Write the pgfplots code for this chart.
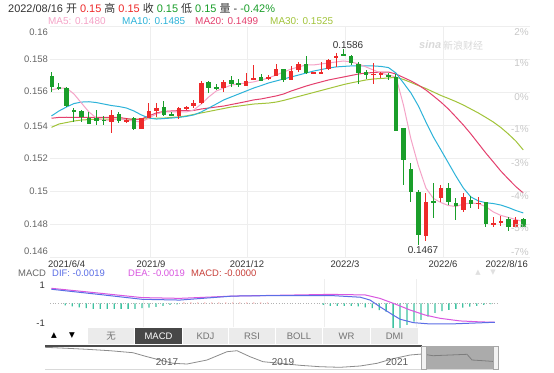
\documentclass[border=0pt]{standalone}
\usepackage{pgfplots}
\pgfplotsset{compat=1.18}
\usepackage{pgfplotstable}
\usepackage{fontspec}
\setmainfont{Liberation Sans}
\newfontfamily\cjk{Noto Sans CJK SC}
\newfontfamily\dejavu{DejaVu Sans}
\definecolor{cred}{HTML}{EE2A2A}
\definecolor{cgrn}{HTML}{1A9E2A}
\definecolor{ma5}{HTML}{F5A3C7}
\definecolor{ma10}{HTML}{2DB3D9}
\definecolor{ma20}{HTML}{E4406E}
\definecolor{ma30}{HTML}{A2C43A}
\definecolor{dif}{HTML}{5B6EE6}
\definecolor{dea}{HTML}{D957E0}
\definecolor{macdc}{HTML}{C8403A}
\definecolor{hist}{HTML}{3EC2A0}
\definecolor{gridc}{HTML}{EEEEEE}
\definecolor{txt}{HTML}{333333}
\definecolor{lbl}{HTML}{666666}
\definecolor{pct}{HTML}{C8C8C8}
\newcommand\fs[1]{\fontsize{#1}{#1}\selectfont}

\pgfplotstableread{
i o h l c
8 0.15420 0.15491 0.15352 0.15461
10 0.15418 0.15442 0.15412 0.15430
12 0.15376 0.15445 0.15374 0.15441
13 0.15444 0.15535 0.15440 0.15485
14 0.15487 0.15533 0.15450 0.15501
17 0.15455 0.15511 0.15435 0.15501
18 0.15503 0.15517 0.15490 0.15509
19 0.15515 0.15552 0.15501 0.15532
20 0.15532 0.15669 0.15530 0.15657
23 0.15622 0.15673 0.15602 0.15662
26 0.15636 0.15713 0.15634 0.15669
27 0.15673 0.15764 0.15671 0.15683
29 0.15677 0.15703 0.15673 0.15693
30 0.15697 0.15768 0.15695 0.15738
32 0.15673 0.15758 0.15671 0.15729
33 0.15733 0.15784 0.15723 0.15770
35 0.15714 0.15722 0.15712 0.15720
36 0.15713 0.15780 0.15707 0.15723
37 0.15738 0.15798 0.15733 0.15794
38 0.15808 0.15838 0.15753 0.15818
43 0.15705 0.15774 0.15649 0.15711
44 0.15707 0.15723 0.15683 0.15713
50 0.14727 0.14990 0.14699 0.14935
52 0.14956 0.15036 0.14935 0.15016
55 0.14885 0.14986 0.14875 0.14966
57 0.14921 0.14962 0.14889 0.14929
59 0.14794 0.14844 0.14780 0.14804
60 0.14804 0.14849 0.14788 0.14820
62 0.14784 0.14844 0.14780 0.14824
}\upcandles

\pgfplotstableread{
i o h l c
0 0.15697 0.15721 0.15600 0.15632
1 0.15632 0.15656 0.15612 0.15620
2 0.15622 0.15628 0.15509 0.15515
3 0.15491 0.15503 0.15420 0.15483
4 0.15487 0.15491 0.15420 0.15447
5 0.15444 0.15480 0.15406 0.15406
6 0.15441 0.15491 0.15400 0.15426
7 0.15433 0.15455 0.15400 0.15425
9 0.15467 0.15481 0.15414 0.15424
11 0.15441 0.15448 0.15372 0.15374
15 0.15507 0.15545 0.15455 0.15460
16 0.15467 0.15480 0.15452 0.15458
21 0.15659 0.15669 0.15596 0.15622
22 0.15632 0.15648 0.15612 0.15618
24 0.15673 0.15699 0.15632 0.15647
25 0.15657 0.15679 0.15630 0.15642
28 0.15693 0.15707 0.15667 0.15669
31 0.15738 0.15740 0.15662 0.15673
34 0.15770 0.15818 0.15709 0.15717
39 0.15829 0.15860 0.15823 0.15823
40 0.15818 0.15824 0.15764 0.15774
41 0.15770 0.15784 0.15649 0.15713
42 0.15723 0.15733 0.15677 0.15703
45 0.15703 0.15713 0.15673 0.15689
46 0.15689 0.15709 0.15366 0.15366
47 0.15380 0.15382 0.15036 0.15188
48 0.15132 0.15168 0.14935 0.14996
49 0.14996 0.15006 0.14670 0.14733
51 0.14942 0.15046 0.14834 0.14930
53 0.15016 0.15046 0.14915 0.14935
54 0.14929 0.14956 0.14824 0.14909
56 0.14946 0.14970 0.14895 0.14921
58 0.14935 0.14935 0.14784 0.14800
61 0.14828 0.14844 0.14760 0.14784
63 0.14828 0.14834 0.14784 0.14784
}\downcandles

\pgfplotsset{
  wick/.style={draw=none, mark=none, forget plot, error bars/.cd, y dir=both, y explicit, error mark=none, error bar style={draw=#1, line width=1bp, solid}},
  body/.style={draw=none, mark=none, forget plot, error bars/.cd, y dir=both, y explicit, error mark=none, error bar style={draw=#1, line width=4.6bp, solid}},
}

\begin{document}
\begin{tikzpicture}[x=1bp,y=1bp]
\fill[white] (0,0) rectangle (554,372);
\path[use as bounding box] (0,0) rectangle (554,372);

% ---------- header ----------
\node[anchor=west, inner sep=0pt, text=txt, font=\fs{11}] at (8,364)
 {2022/08/16 {\cjk 开} \textcolor{cred}{0.15} {\cjk 高} \textcolor{cred}{0.15} {\cjk 收} \textcolor{cgrn}{0.15} {\cjk 低} \textcolor{cgrn}{0.15} {\cjk 量} - \textcolor{cgrn}{-0.42\%}};
\node[anchor=west, inner sep=0pt, text=ma5, font=\fs{10}] at (48,351) {MA5: 0.1480};
\node[anchor=west, inner sep=0pt, text=ma10, font=\fs{10}] at (122,351) {MA10: 0.1485};
\node[anchor=west, inner sep=0pt, text=ma20, font=\fs{10}] at (195,351) {MA20: 0.1499};
\node[anchor=west, inner sep=0pt, text=ma30, font=\fs{10}] at (270,351) {MA30: 0.1525};

% ---------- main chart ----------
\begin{axis}[at={(50bp,115bp)}, anchor=south west, scale only axis,
  width=480bp, height=231bp, xmin=-0.2, xmax=63.9, ymin=0.146, ymax=0.160,
  axis line style={draw=none}, tick style={draw=none},
  xtick={13.2,26.1,39.2,52.3}, xticklabels={},
  ytick={0.146,0.148,0.150,0.152,0.154,0.156,0.158,0.160}, yticklabels={},
  grid=major, major grid style={draw=gridc, line width=0.7bp}]
\addplot[ma30, line width=1bp] coordinates {(0,0.15386)(1,0.15406)(2,0.15415)(3,0.15424)(4,0.1543)(5,0.15433)(6,0.15435)(7,0.15436)(8,0.15436)(9,0.15436)(10,0.15436)(11,0.15436)(12,0.15436)(13,0.15439)(14,0.15441)(15,0.15442)(16,0.15446)(17,0.15449)(18,0.15455)(19,0.15464)(20,0.15473)(21,0.15482)(22,0.15491)(23,0.155)(24,0.15509)(25,0.15515)(26,0.15521)(27,0.15527)(28,0.1553)(29,0.15533)(30,0.15539)(31,0.15549)(32,0.15561)(33,0.15573)(34,0.15585)(35,0.15597)(36,0.15609)(37,0.15621)(38,0.15633)(39,0.15645)(40,0.15655)(41,0.15664)(42,0.15673)(43,0.15679)(44,0.15682)(45,0.15685)(46,0.15689)(47,0.15676)(48,0.15658)(49,0.15639)(50,0.15621)(51,0.156)(52,0.15579)(53,0.15561)(54,0.15542)(55,0.15521)(56,0.15497)(57,0.15473)(58,0.15446)(59,0.15418)(60,0.15385)(61,0.15346)(62,0.15303)(63,0.15249)};
\addplot[ma20, line width=1bp] coordinates {(0,0.15441)(1,0.15446)(2,0.15447)(3,0.15446)(4,0.15446)(5,0.15446)(6,0.15446)(7,0.15446)(8,0.15446)(9,0.15446)(10,0.15439)(11,0.15433)(12,0.15436)(13,0.15455)(14,0.15473)(15,0.15482)(16,0.15485)(17,0.15487)(18,0.15487)(19,0.15488)(20,0.15497)(21,0.15503)(22,0.15509)(23,0.15515)(24,0.15524)(25,0.15533)(26,0.15542)(27,0.15552)(28,0.15558)(29,0.15567)(30,0.15576)(31,0.15588)(32,0.15606)(33,0.15621)(34,0.15636)(35,0.15649)(36,0.15661)(37,0.15673)(38,0.15682)(39,0.15691)(40,0.157)(41,0.15709)(42,0.15715)(43,0.15718)(44,0.15721)(45,0.15721)(46,0.15709)(47,0.15688)(48,0.15667)(49,0.15642)(50,0.15612)(51,0.15576)(52,0.15539)(53,0.15497)(54,0.15449)(55,0.154)(56,0.15346)(57,0.15288)(58,0.1523)(59,0.15176)(60,0.15121)(61,0.15073)(62,0.15027)(63,0.14988)};
\addplot[ma10, line width=1bp] coordinates {(0,0.15455)(1,0.15485)(2,0.15509)(3,0.1553)(4,0.15539)(5,0.15541)(6,0.15536)(7,0.15527)(8,0.15518)(9,0.15512)(10,0.15503)(11,0.15485)(12,0.15461)(13,0.15442)(14,0.15436)(15,0.15439)(16,0.15442)(17,0.15446)(18,0.15452)(19,0.15461)(20,0.15479)(21,0.15503)(22,0.15527)(23,0.15552)(24,0.1557)(25,0.15588)(26,0.15606)(27,0.15624)(28,0.15639)(29,0.15655)(30,0.15667)(31,0.15679)(32,0.15691)(33,0.15703)(34,0.15715)(35,0.15727)(36,0.15736)(37,0.15745)(38,0.15752)(39,0.15755)(40,0.15758)(41,0.15758)(42,0.15758)(43,0.15758)(44,0.15755)(45,0.15748)(46,0.15715)(47,0.15655)(48,0.15594)(49,0.15515)(50,0.15418)(51,0.15327)(52,0.15249)(53,0.1517)(54,0.15091)(55,0.15018)(56,0.14964)(57,0.1494)(58,0.14929)(59,0.14924)(60,0.14915)(61,0.149)(62,0.14882)(63,0.14867)};
\addplot[ma5, line width=1bp] coordinates {(0,0.15612)(1,0.15624)(2,0.15624)(3,0.15588)(4,0.15533)(5,0.15479)(6,0.15442)(7,0.1543)(8,0.1543)(9,0.15436)(10,0.1543)(11,0.15424)(12,0.15418)(13,0.15442)(14,0.15467)(15,0.15479)(16,0.15479)(17,0.15479)(18,0.15479)(19,0.15491)(20,0.15527)(21,0.1557)(22,0.15606)(23,0.15624)(24,0.15642)(25,0.15649)(26,0.15655)(27,0.15661)(28,0.15673)(29,0.15685)(30,0.15703)(31,0.15721)(32,0.15739)(33,0.15752)(34,0.15764)(35,0.15764)(36,0.1577)(37,0.15776)(38,0.15782)(39,0.15788)(40,0.15782)(41,0.1577)(42,0.15752)(43,0.15733)(44,0.15715)(45,0.15703)(46,0.15691)(47,0.15521)(48,0.15315)(49,0.15152)(50,0.15018)(51,0.14955)(52,0.1493)(53,0.14912)(54,0.14906)(55,0.14921)(56,0.14927)(57,0.14924)(58,0.14905)(59,0.14873)(60,0.14852)(61,0.1484)(62,0.14827)(63,0.14814)};
\addplot[wick=cred] table[x=i, y expr={(\thisrow{h}+\thisrow{l})/2}, y error expr={(\thisrow{h}-\thisrow{l})/2}] {\upcandles};
\addplot[body=cred] table[x=i, y expr={(\thisrow{o}+\thisrow{c})/2}, y error expr={abs(\thisrow{c}-\thisrow{o})/2}] {\upcandles};
\addplot[wick=cgrn] table[x=i, y expr={(\thisrow{h}+\thisrow{l})/2}, y error expr={(\thisrow{h}-\thisrow{l})/2}] {\downcandles};
\addplot[body=cgrn] table[x=i, y expr={(\thisrow{o}+\thisrow{c})/2}, y error expr={abs(\thisrow{c}-\thisrow{o})/2}] {\downcandles};
\end{axis}

% y labels left
\foreach \v/\y in {0.16/339.3, 0.158/312.7, 0.156/280.3, 0.154/246, 0.152/214, 0.15/180.3, 0.148/148, 0.146/120.3}
  \node[anchor=east, inner sep=0pt, text=lbl, font=\fs{9.5}] at (48,\y) {\v};
% right % labels
\foreach \v/\y in {2\%/340, 1\%/308.7, 0\%/275.3, -1\%/242.7, -3\%/209.3, -4\%/176, -5\%/144, -7\%/120.3}
  \node[anchor=east, inner sep=0pt, text=pct, font=\fs{10}] at (529,\y) {\v};
% date labels
\node[anchor=west, inner sep=0pt, text=txt, font=\fs{9.5}] at (48,108) {2021/6/4};
\node[inner sep=0pt, text=txt, font=\fs{9.5}] at (151,108) {2021/9};
\node[inner sep=0pt, text=txt, font=\fs{9.5}] at (247,108) {2021/12};
\node[inner sep=0pt, text=txt, font=\fs{9.5}] at (345,108) {2022/3};
\node[inner sep=0pt, text=txt, font=\fs{9.5}] at (443,108) {2022/6};
\node[anchor=east, inner sep=0pt, text=txt, font=\fs{9.5}] at (528,108) {2022/8/16};
% annotations
\node[inner sep=0pt, text=txt, font=\fs{10}] at (348,327) {0.1586};
\node[inner sep=0pt, text=txt, font=\fs{10}] at (423,122) {0.1467};
% watermark
\node[anchor=west, inner sep=0pt, text=black!15, font=\fs{11}\bfseries\itshape] at (419,327) {sina};
\node[anchor=west, inner sep=0pt, text=black!15, font=\cjk\fs{10}] at (443,326) {新浪财经};

% ---------- MACD ----------
\node[anchor=west, inner sep=0pt, text=lbl, font=\fs{9.5}] at (18,99) {MACD};
\node[anchor=west, inner sep=0pt, text=dif, font=\fs{9.5}] at (52,99) {DIF: -0.0019};
\node[anchor=west, inner sep=0pt, text=dea, font=\fs{9.5}] at (128,99) {DEA: -0.0019};
\node[anchor=west, inner sep=0pt, text=macdc, font=\fs{9.5}] at (191,99) {MACD: -0.0000};
\node[inner sep=0pt, text=black!12, font=\dejavu\fs{7}] at (478,99) {▲};
\node[inner sep=0pt, text=black!12, font=\dejavu\fs{7}] at (493,99) {▼};
\begin{axis}[at={(50bp,45bp)}, anchor=south west, scale only axis,
  width=447bp, height=48bp, xmin=-0.2, xmax=63.9, ymin=-1.24, ymax=1.29,
  axis line style={draw=none}, tick style={draw=none},
  xtick={13.2,26.1,39.2,52.3}, xticklabels={}, ytick={0}, yticklabels={},
  xmajorgrids, ymajorgrids, major grid style={draw=gridc, line width=0.7bp},
  ytick={0}, y grid style={draw=black!30, dotted, line width=0.6bp}]
\addplot[ybar, bar width=1.3bp, fill=hist, draw=none, forget plot] coordinates {(2,-0.1)(3,-0.15)(4,-0.2)(5,-0.25)(6,-0.28)(7,-0.28)(8,-0.28)(9,-0.28)(10,-0.28)(11,-0.28)(12,-0.28)(13,-0.25)(14,-0.22)(15,-0.18)(16,-0.12)(17,-0.08)(18,-0.05)(39,-0.08)(40,-0.12)(41,-0.12)(42,-0.12)(43,-0.12)(44,-0.15)(45,-0.2)(46,-0.25)(47,-0.35)(48,-0.43)(49,-1.29)(50,-1.29)(51,-1.13)(52,-0.96)(53,-0.87)(54,-0.69)(55,-0.5)(56,-0.4)(57,-0.34)(58,-0.28)(59,-0.22)(60,-0.17)(61,-0.12)(62,-0.07)(63,-0.03)};
\addplot[ybar, bar width=1.3bp, fill=cred!60, draw=none, forget plot] coordinates {(19,0.04)(20,0.04)(21,0.04)(22,0.04)(23,0.04)(24,0.04)(25,0.04)(26,0.04)(27,0.04)(28,0.04)(29,0.04)(30,0.04)(31,0.04)};
\addplot[dea, line width=1bp] coordinates {(0,0.8)(7,0.54)(13,0.31)(18.4,0.27)(26,0.39)(40,0.48)(45,0.45)(47.1,0.27)(49.3,-0.03)(51.4,-0.34)(53.6,-0.61)(55.7,-0.78)(58.6,-0.92)(61.5,-0.97)(63.6,-0.99)};
\addplot[dif, line width=1bp] coordinates {(0,0.75)(7,0.47)(13,0.22)(18.4,0.18)(26,0.39)(32.8,0.42)(40,0.42)(44.3,0.33)(45.7,0.18)(47.1,-0.17)(49,-0.61)(50,-0.83)(51.9,-1.01)(54.3,-1.08)(57.2,-1.08)(60,-1.04)(63.6,-0.99)};
\end{axis}
\node[anchor=east, inner sep=0pt, text=txt, font=\fs{9.5}] at (45,87) {1};
\node[anchor=east, inner sep=0pt, text=txt, font=\fs{9.5}] at (45,49) {-1};

% ---------- buttons ----------
\node[inner sep=0pt, font=\dejavu\fs{7.5}] at (54,36) {▲};
\node[inner sep=0pt, font=\dejavu\fs{7.5}] at (72,36) {▼};
\foreach \a/\b/\t in {88/134/{\cjk 无}, 183/228/KDJ, 229/275/RSI, 276/322/BOLL, 323/370/WR, 371/418/DMI} {
  \fill[black!8] (\a,28) rectangle (\b,44);
  \node[inner sep=0pt, text=black!55, font=\fs{9.5}] at ({(\a+\b)/2},36) {\t};
}
\fill[black!72] (135,28) rectangle (182,44);
\node[inner sep=0pt, text=white, font=\fs{9.5}] at (158.5,36) {MACD};

% ---------- navigator ----------
\begin{axis}[at={(45bp,3bp)}, anchor=south west, scale only axis,
  width=453bp, height=23bp, xmin=45, xmax=498, ymin=-369, ymax=-346, hide axis]
\addplot[black!45, line width=0.8bp] coordinates {(45,-347.3)(67,-348.3)(87,-349.3)(110,-350.7)(133,-352.7)(147,-356.7)(160,-360)(173,-363.3)(187,-364)(207,-360)(227,-351.7)(237,-350.7)(250,-356.7)(263,-361.7)(280,-363.3)(300,-365.3)(320,-366.7)(340,-367.3)(360,-366)(377,-363.3)(393,-358.7)(410,-355)(422,-354)(433,-355.7)(450,-355)(467,-354.3)(472,-360)(483,-360.7)(497,-361.7)};
\end{axis}
\draw[black!70, line width=1.2bp] (45,26) -- (422,26);
\draw[black!15, line width=0.6bp] (45,3) -- (498,3);
\fill[black!55, opacity=0.6] (422,3) rectangle (498,26);
\draw[black!35, fill=black!5, line width=0.5bp] (421,3) rectangle (426,26);
\draw[black!35, fill=black!5, line width=0.5bp] (493,3) rectangle (498,26);
\node[inner sep=0pt, text=black!65, font=\fs{10}] at (167,10) {2017};
\node[inner sep=0pt, text=black!65, font=\fs{10}] at (283,10) {2019};
\node[inner sep=0pt, text=black!65, font=\fs{10}] at (397,10) {2021};
\end{tikzpicture}
\end{document}
